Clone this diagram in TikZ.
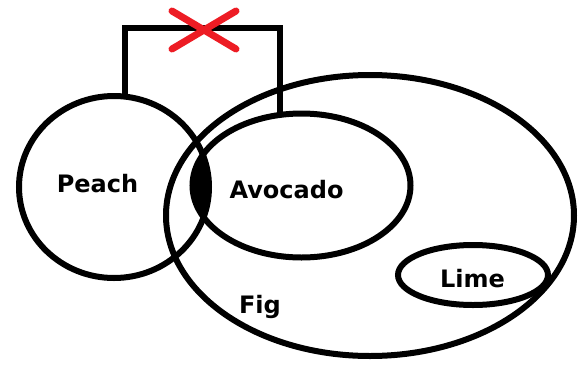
\documentclass[tikz,border=0pt]{standalone}
\usepackage{fontspec}
\setmainfont{DejaVu Sans}
\usetikzlibrary{shapes.geometric, shapes.misc}
\definecolor{crossred}{RGB}{237,28,36}

\begin{document}
\begin{tikzpicture}[x=1pt, y=-1pt]
	\tikzset{
		ring/.style = {ellipse, draw, line width=6pt, inner sep=0pt, outer sep=0pt},
		fruit/.style = {anchor=base, font=\fontsize{24}{28}\selectfont\bfseries}
	}
	\useasboundingbox (0, 0) rectangle (582, 365);
	% overlap of peach and avocado
	\begin{scope}
		\clip (114, 187) ellipse [x radius=95, y radius=91];
		\fill (301.5, 185.5) ellipse [x radius=109, y radius=72];
	\end{scope}
	\node[ring, minimum width=408pt, minimum height=281pt] (fig) at (370, 215.5) {};
	\node[ring, minimum width=218pt, minimum height=144pt] (avocado) at (301.5, 185.5) {};
	\node[ring, minimum width=150pt, minimum height=60pt] (lime) at (473, 275) {};
	\node[ring, minimum width=190pt, minimum height=182pt] (peach) at (114, 187) {};
	\node[fruit] at (97.5, 192) {Peach};
	\node[fruit] at (286.5, 198) {Avocado};
	\node[fruit] at (260, 313) {Fig};
	\node[fruit] at (472.5, 287) {Lime};
	\coordinate (top) at (203, 28);
	\draw[line width=6pt] (peach.83) |- (top) -| (avocado.107);
	\node[cross out, draw=crossred, line width=7pt, line cap=round,
		minimum width=57pt, minimum height=31pt, inner sep=0pt] (cut) at (204, 30) {};
\end{tikzpicture}
\end{document}
